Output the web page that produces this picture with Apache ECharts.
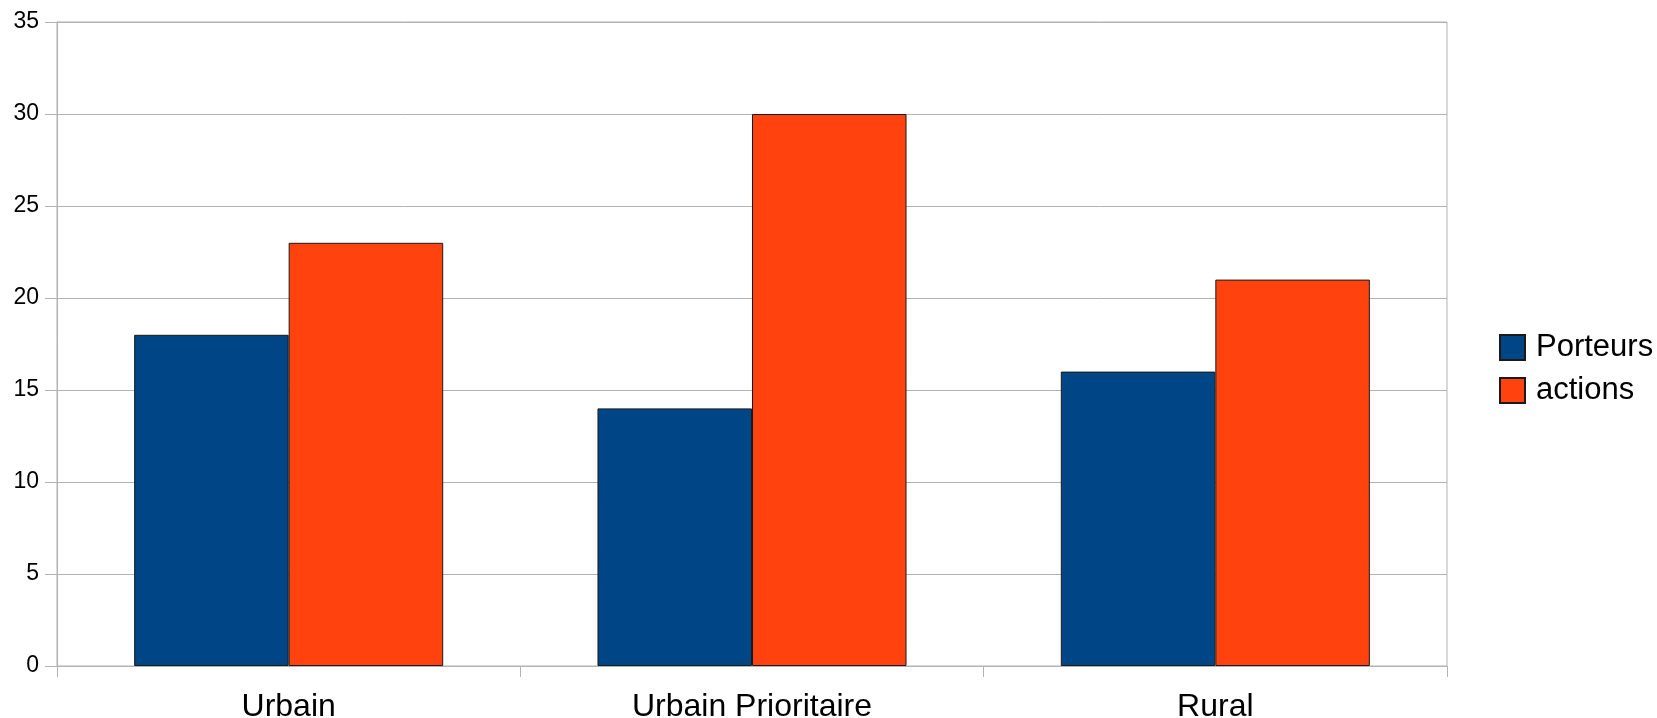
<!DOCTYPE html>
<html>
<head>
<meta charset="utf-8">
<script src="https://cdn.jsdelivr.net/npm/echarts@6/dist/echarts.min.js"></script>
<style>
  html, body { margin: 0; padding: 0; background: #fff; }
  #chart { width: 1657px; height: 718px; }
</style>
</head>
<body>
<div id="chart"></div>
<script>
// Categories and series values
const categories = ['Urbain', 'Urbain Prioritaire', 'Rural'];
const porteurs = [18, 14, 16];
const actions = [23, 30, 21];
const seriesNames = ['Porteurs', 'actions'];

const FONT = '"Liberation Sans", Arial, sans-serif';
const GRID_COLOR = '#b3b3b3';

const chart = echarts.init(document.getElementById('chart'), null, { renderer: 'canvas' });

chart.setOption({
  animation: false,
  backgroundColor: '#ffffff',
  textStyle: { fontFamily: FONT },
  grid: {
    left: 57, top: 22, right: 210, bottom: 52,
    show: true, borderColor: GRID_COLOR, borderWidth: 1,
    containLabel: false,
    outerBoundsMode: 'none'
  },
  legend: {
    orient: 'vertical',
    left: 1499, top: 332,
    padding: 0,
    itemWidth: 25, itemHeight: 25, itemGap: 12,
    icon: 'rect',
    textStyle: { fontFamily: FONT, fontSize: 31, lineHeight: 25, color: '#000', padding: [0, 0, 0, 6] },
    data: seriesNames
  },
  xAxis: {
    type: 'category',
    data: categories,
    axisLine: { show: true, lineStyle: { color: GRID_COLOR, width: 1 } },
    axisTick: { show: true, length: 11, interval: 0, lineStyle: { color: GRID_COLOR } },
    axisLabel: { fontFamily: FONT, fontSize: 32, color: '#000', margin: 25, interval: 0 },
    splitLine: { show: false }
  },
  yAxis: {
    type: 'value',
    min: 0, max: 35, interval: 5,
    axisLine: { show: true, lineStyle: { color: GRID_COLOR, width: 1 } },
    axisTick: { show: true, length: 12, lineStyle: { color: GRID_COLOR } },
    axisLabel: { fontFamily: FONT, fontSize: 23, color: '#000', margin: 18 },
    splitLine: { show: true, lineStyle: { color: GRID_COLOR, width: 1 } }
  },
  series: [
    {
      name: seriesNames[0],
      type: 'bar',
      data: porteurs,
      barGap: '0%',
      barCategoryGap: '33.3%',
      itemStyle: { color: '#004586', borderColor: '#1a1a1a', borderWidth: 1 }
    },
    {
      name: seriesNames[1],
      type: 'bar',
      data: actions,
      barGap: '0%',
      barCategoryGap: '33.3%',
      itemStyle: { color: '#ff420e', borderColor: '#1a1a1a', borderWidth: 1 }
    }
  ]
});
</script>
</body>
</html>
